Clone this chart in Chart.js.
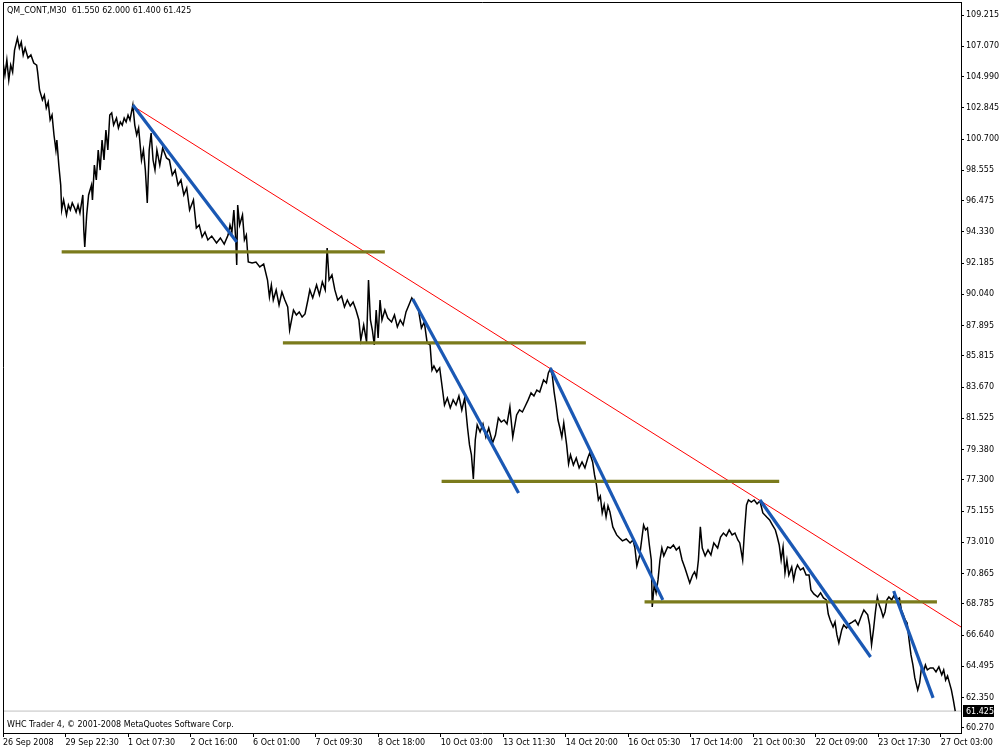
<!DOCTYPE html>
<html>
<head>
<meta charset="utf-8">
<script src="https://cdn.jsdelivr.net/npm/chart.js@4.4.1/dist/chart.umd.min.js"></script>
<style>
  body { margin: 0; background: #fff; }
  canvas { display: block; }
</style>
</head>
<body>
<canvas id="price-canvas" width="1000" height="750"></canvas>
<script>
// QM_CONT M30 closes, x = bar number
const bars = [
	0,2,4,6,8,10,12,15,17,19, 21,23,26,29,32,35,36,38,41,43,
	45,47,49,51,53,55,56,58,60,61, 63,66,68,70,72,74,76,78,80,83,
	84,85,87,89,92,93,95,97,99,101, 103,105,107,109,111,113,115,118,120,122,
	124,126,128,130,132,135,137,139,141,144, 146,148,150,152,154,156,158,160,163,166,
	170,173,176,179,182,185,188,191,194,198, 201,204,207,210,213,217,222,226,230,234,
	236,238,240,242,243,244,246,249,251,253, 255,259,263,267,271,275,277,279,281,284,
	287,290,293,296,298,302,305,308,311,314, 317,319,322,326,329,332,335,337,339,342,
	345,348,352,355,358,361,364,367,370,372, 375,378,380,382,384,386,388,390,392,394,
	397,400,404,407,410,413,416,419,422,425, 428,432,435,438,441,444,446,448,451,454,
	457,459,462,465,468,471,474,477,480,483, 485,487,489,491,493,496,499,502,505,509,
	512,515,518,521,524,527,530,534,537,540, 543,546,549,552,555,558,562,565,567,569,
	571,573,575,577,579,581,583,586,588,590, 593,596,599,602,605,608,610,613,615,617,
	619,621,623,625,627,629,631,634,638,641, 644,648,652,655,657,659,662,666,668,670,
	672,674,675,677,679,681,683,685,687,691, 694,697,700,703,706,709,712,714,717,719,
	721,723,725,727,730,733,736,739,743,746, 749,752,755,758,761,764,766,769,771,773,
	775,778,781,784,787,790,794,797,800,803, 805,807,809,811,813,815,817,820,822,824,
	826,829,832,835,838,840,843,847,850,853, 856,858,860,863,865,867,869,872,874,877,
	880,883,886,889,892,895,899,901,903,905, 907,909,911,913,915,917,919,921,924,926,
	929,932,934,936,938,940,942,944,946,948, 951,953,955,957,959,961,964,967,970,973,
	976,978,980,982,984,986,988,990
];
const prices = [
	105.99,105.10,106.13,104.75,105.78,105.30,106.81,107.64,106.95,107.36,
	106.47,106.95,106.26,106.47,105.92,105.78,105.30,104.07,103.38,103.72,
	102.83,103.24,102.01,102.35,100.98,99.95,100.63,98.92,97.54,95.83,
	96.52,95.49,96.17,95.83,96.31,96.03,95.69,96.17,95.62,96.86,
	94.46,93.29,95.49,96.86,97.54,96.52,98.92,97.89,99.95,98.57,
	100.63,99.26,101.32,99.95,102.35,102.49,101.66,102.14,101.46,101.87,
	101.66,102.14,101.87,102.35,102.01,103.04,101.66,100.98,101.46,99.26,
	99.95,98.57,96.31,99.95,101.11,99.26,98.57,99.95,98.92,100.08,
	99.40,99.26,98.23,98.57,97.54,97.89,96.86,97.34,95.83,96.52,
	94.59,94.80,93.97,94.32,93.77,94.04,93.56,93.91,93.49,94.11,
	94.80,94.32,95.83,93.77,92.05,96.17,94.80,95.49,93.77,94.11,
	92.26,92.19,92.26,91.92,92.12,91.02,89.86,90.68,89.65,90.34,
	89.31,90.20,89.65,89.17,87.59,88.96,88.62,88.83,88.48,88.69,
	89.65,90.34,89.79,90.68,89.99,90.89,90.34,93.22,91.02,91.37,
	90.34,89.65,89.92,89.17,89.65,89.24,89.51,88.96,88.28,86.90,
	87.93,86.77,91.02,88.28,87.59,86.56,88.96,87.04,89.65,88.28,
	88.96,88.41,88.14,88.62,87.80,88.28,87.93,88.83,89.31,89.79,
	89.44,88.96,87.73,88.14,86.70,86.56,84.84,85.12,84.71,84.98,
	83.47,82.44,82.92,82.24,82.79,82.44,83.06,82.10,82.92,80.86,
	79.70,79.01,77.36,80.04,81.07,80.59,81.14,80.24,80.86,79.83,
	80.38,81.55,81.27,81.41,81.14,82.30,80.24,81.76,82.10,81.96,
	82.37,82.79,83.27,83.06,83.47,83.33,84.16,83.95,84.64,84.91,
	84.50,83.33,82.44,81.41,80.86,80.24,81.21,79.70,78.39,79.01,
	78.32,78.80,78.12,78.53,78.12,78.80,79.15,78.53,77.64,76.95,
	75.92,76.19,75.03,75.58,74.75,75.51,75.10,74.07,73.52,73.31,
	73.11,73.24,72.97,73.17,72.62,71.39,72.14,74.20,73.86,74.00,
	72.83,71.80,68.57,70.08,69.54,70.43,71.80,72.62,72.08,72.69,
	72.62,72.83,72.49,72.69,71.80,71.25,70.63,70.22,70.77,70.98,
	70.63,71.80,74.07,72.62,72.08,72.49,72.14,72.97,72.62,73.38,
	73.65,73.45,73.86,73.52,73.65,73.17,72.97,71.80,73.86,75.58,
	75.92,75.78,75.92,75.65,75.85,75.03,74.75,74.55,74.20,73.86,
	73.38,72.83,71.80,72.69,70.91,71.80,70.77,71.32,70.43,71.11,
	71.46,71.11,71.25,70.77,70.77,69.74,69.47,69.26,69.54,69.19,
	69.06,68.09,67.68,67.20,67.54,66.65,66.10,67.00,67.34,67.13,
	67.41,67.54,67.68,67.34,67.89,68.37,68.03,67.34,65.97,67.00,
	68.23,69.26,68.71,68.37,67.89,68.23,69.06,69.26,69.06,69.33,
	69.06,69.19,68.37,68.03,67.68,67.48,66.31,65.28,64.59,63.70,
	62.88,63.36,64.46,64.11,64.59,64.25,64.39,64.39,64.11,64.46,
	63.91,64.25,63.56,63.84,63.36,62.88,62.19,61.425
];

const symbol = "QM_CONT,M30";
const ohlc = ["61.550", "62.000", "61.400", "61.425"];
const lastPrice = 61.425;

const timeLabels = ["26 Sep 2008", "29 Sep 22:30", "1 Oct 07:30", "2 Oct 16:00", "6 Oct 01:00",
	"7 Oct 09:30", "8 Oct 18:00", "10 Oct 03:00", "13 Oct 11:30", "14 Oct 20:00", "16 Oct 05:30",
	"17 Oct 14:00", "21 Oct 00:30", "22 Oct 09:00", "23 Oct 17:30", "27 Oct 03:00"];
const barsPerLabel = 65;
const lastBar = 996;

const priceLabels = ["109.215", "107.070", "104.990", "102.845", "100.700", "98.555", "96.475",
	"94.330", "92.185", "90.040", "87.895", "85.815", "83.670", "81.525", "79.380", "77.300",
	"75.155", "73.010", "70.865", "68.785", "66.640", "64.495", "62.350", "60.270"];

// trend lines: [bar1, price1, bar2, price2]
const resistLine = [135, 102.97, 996, 67.20];
const fallLines = [
	[135, 103.04, 243, 93.63],
	[426, 89.72, 536, 76.40],
	[569, 84.98, 686, 69.06],
	[787, 75.92, 902, 65.14],
	[926, 69.67, 967, 62.33]
];
const supportLines = [
	[61, 92.95, 397, 92.95],
	[291, 86.70, 606, 86.70],
	[456, 77.19, 807, 77.19],
	[667, 68.92, 971, 68.92]
];

const FONT = "DejaVu Sans";

function seg(l, color, width, order){
	return {
		data: [{x: l[0], y: l[1]}, {x: l[2], y: l[3]}],
		borderColor: color,
		borderWidth: width,
		pointRadius: 0,
		order: order
	};
}

let datasets = [];
supportLines.forEach(l => datasets.push(seg(l, "#7b7b1c", 3.2, 1)));
fallLines.forEach(l => datasets.push(seg(l, "#1a58b4", 3.2, 0)));
datasets.push(seg(resistLine, "#ff0000", 1, 2));
datasets.push({
	data: bars.map((b, i) => ({x: b, y: prices[i]})),
	borderColor: "#000",
	borderWidth: 1.5,
	pointRadius: 0,
	order: 3
});
datasets.push(seg([0, lastPrice, lastBar, lastPrice], "#c0c0c0", 1, 4));

const mtChrome = {
	id: "mtChrome",
	afterDraw(chart){
		const ctx = chart.ctx;
		const a = chart.chartArea;
		const y = chart.scales.y;
		ctx.save();
		ctx.strokeStyle = "#000";
		ctx.lineWidth = 1;
		ctx.beginPath();
		ctx.moveTo(a.left + 0.5, a.bottom);
		ctx.lineTo(a.left + 0.5, a.top + 0.5);
		ctx.lineTo(a.right, a.top + 0.5);
		ctx.stroke();

		ctx.font = "8px '" + FONT + "'";
		ctx.fillStyle = "#000";
		ctx.textBaseline = "middle";
		ctx.textAlign = "left";
		ctx.fillText(symbol + "  " + ohlc.join(" "), a.left + 4, 11);
		ctx.fillText("WHC Trader 4, \u00a9 2001-2008 MetaQuotes Software Corp.", a.left + 4, 725);

		let py = Math.round(y.getPixelForValue(lastPrice));
		ctx.fillStyle = "#000";
		ctx.fillRect(a.right + 2, py - 6, 31, 12);
		ctx.fillStyle = "#fff";
		ctx.fillText(lastPrice.toFixed(3), a.right + 5, py + 0.5);
		ctx.restore();
	}
};

function noPad(s){
	s.paddingTop = 0;
	s.paddingBottom = 0;
	s.paddingLeft = 0;
	s.paddingRight = 0;
}

let graph = new Chart("price-canvas", {
	type: "line",
	data: { datasets: datasets },
	plugins: [mtChrome],
	options: {
		responsive: false,
		animation: false,
		devicePixelRatio: 1,
		layout: { padding: { left: 3, top: 2, right: 0, bottom: 0 } },
		plugins: { legend: { display: false }, tooltip: { enabled: false } },
		elements: { line: { tension: 0 } },
		scales: {
			x: {
				type: "linear",
				min: 0,
				max: lastBar,
				afterBuildTicks: s => { s.ticks = timeLabels.map((t, i) => ({value: i * barsPerLabel})); },
				afterFit: s => { s.height = 17; noPad(s); },
				grid: { drawOnChartArea: false, color: "#000", tickLength: 4 },
				border: { display: true, color: "#000" },
				ticks: {
					autoSkip: false,
					maxRotation: 0,
					align: "start",
					padding: 1,
					color: "#000",
					font: { family: FONT, size: 8 },
					callback: (v, i) => timeLabels[i]
				}
			},
			y: {
				position: "right",
				min: 59.92,
				max: 110.11,
				afterBuildTicks: s => { s.ticks = priceLabels.map(t => ({value: parseFloat(t)})); },
				afterFit: s => { s.width = 39; noPad(s); },
				grid: { drawOnChartArea: false, color: "#000", tickLength: 3 },
				border: { display: true, color: "#000" },
				ticks: {
					padding: 2,
					color: "#000",
					font: { family: FONT, size: 8 },
					callback: (v, i) => priceLabels[i]
				}
			}
		}
	}
});
</script>
</body>
</html>
